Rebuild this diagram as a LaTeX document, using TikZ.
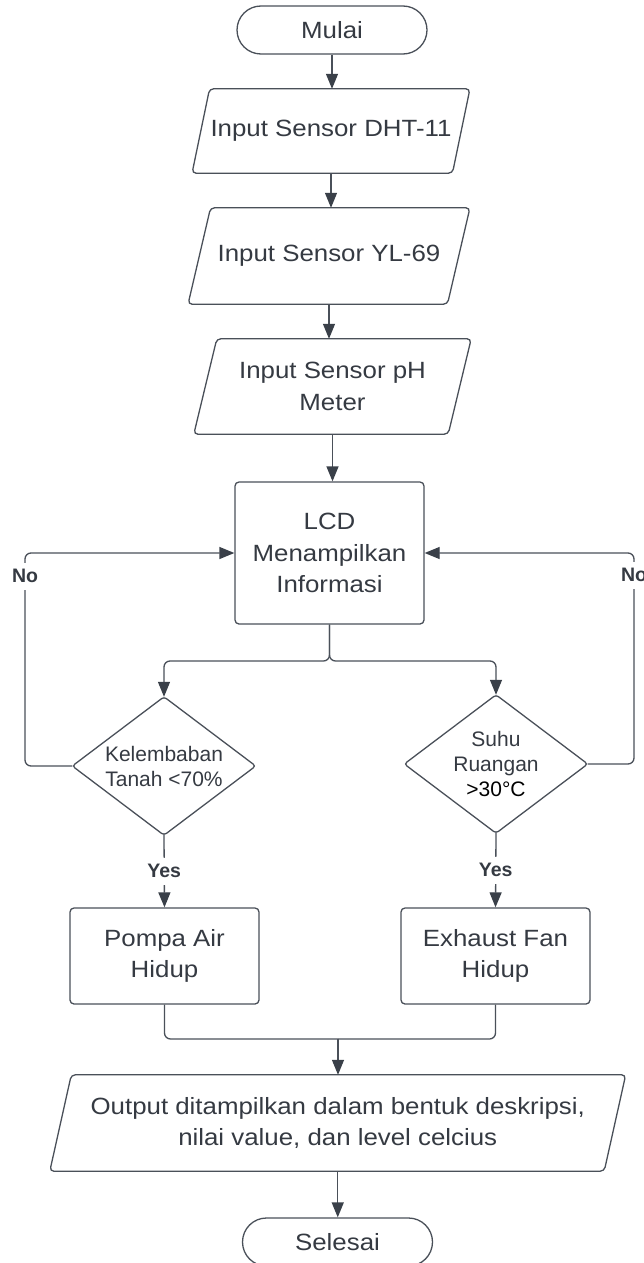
\documentclass[tikz,border=0pt]{standalone}
\usepackage{fontspec}
\setmainfont{Liberation Sans}
\newfontfamily\mf[FakeStretch=1.1]{Liberation Sans}
\usetikzlibrary{arrows.meta}
\definecolor{ln}{HTML}{4A5059}
\definecolor{tx}{HTML}{353A42}
\definecolor{ah}{HTML}{3A4049}
\newcommand\drawpara[2]{\draw[shp] ([xshift=#2pt]#1.north west) -- ([xshift=#2pt]#1.north east) -- ([xshift=-#2pt]#1.south east) -- ([xshift=-#2pt]#1.south west) -- cycle;}
\begin{document}
\begin{tikzpicture}[x=1pt,y=-1pt,
  every node/.style={text=tx, inner sep=0pt, align=center},
  mt/.style={font=\mf\fontsize{23.5}{31.5}\selectfont},
  dt/.style={font=\fontsize{21}{25}\selectfont},
  shp/.style={draw=ln, line width=1.3pt, rounded corners=4pt},
  box/.style={shp, mt},
  term/.style={draw=ln, line width=1.3pt, rounded corners=24pt, mt, minimum width=190pt, minimum height=48pt},
  lbl/.style={font=\bfseries\fontsize{19.5}{20}\selectfont, fill=white, minimum height=27pt, inner xsep=2pt},
  arr/.style={draw=ln, line width=1.3pt, rounded corners=6pt, -{Triangle[length=15pt,width=12pt,color=ah,fill=ah]}},
  line/.style={draw=ln, line width=1.3pt, rounded corners=6pt}]
\useasboundingbox (0,0) rectangle (644,1263);
% nodes
\node[term] (mulai) at (332,30) {Mulai};
\node[mt, minimum width=260pt, minimum height=84pt] (dht) at (331,131) {Input Sensor DHT-11};
\drawpara{dht}{8.75}
\node[mt, minimum width=259pt, minimum height=96pt] (yl) at (329,256) {Input Sensor YL-69};
\drawpara{yl}{11.25}
\node[mt, minimum width=254pt, minimum height=95pt] (ph) at (332.5,386.5) {Input Sensor pH\\Meter};
\drawpara{ph}{11.5}
\node[box, minimum width=189pt, minimum height=142pt] (lcd) at (329.5,553) {LCD\\Menampilkan\\Informasi};
\node[dt, minimum width=183pt, minimum height=138pt] (d1) at (164,766) {Kelembaban\\Tanah <70\%};
\draw[shp, rounded corners=3pt] (d1.north) -- (d1.east) -- (d1.south) -- (d1.west) -- cycle;
\node[dt, minimum width=183pt, minimum height=138pt] (d2) at (496,764) {Suhu\\Ruangan\\{\color{black}>30°C}};
\draw[shp, rounded corners=3pt] (d2.north) -- (d2.east) -- (d2.south) -- (d2.west) -- cycle;
\node[box, minimum width=189pt, minimum height=96pt] (pompa) at (164.5,956) {Pompa Air\\Hidup};
\node[box, minimum width=189pt, minimum height=96pt] (exh) at (495.5,956) {Exhaust Fan\\Hidup};
\node[mt, minimum width=554pt, minimum height=96pt] (out) at (337.75,1123) {Output ditampilkan dalam bentuk deskripsi,\\nilai value, dan level celcius};
\drawpara{out}{10.75}
\node[term] (sel) at (337.5,1242) {Selesai};
% connectors
\draw[arr] (mulai.south) -- (mulai.south |- dht.north);
\draw[arr] (dht.south) -- (dht.south |- yl.north);
\draw[arr] (yl.south) -- (yl.south |- ph.north);
\draw[arr] (ph.south) -- (ph.south |- lcd.north);
\coordinate (sp) at (329.5,661);
\draw[arr] (lcd.south) -- (sp) -| (d1.north);
\draw[arr] (lcd.south) -- (sp) -| (d2.north);
\coordinate (lx) at (25,553);
\draw[arr] (d1.west) -| (lx) -- (lcd.west);
\node[lbl] (no1) at (25,576) {No};
\coordinate (rx) at (634,553);
\draw[arr] (d2.east) -| (rx) -- (lcd.east);
\node[lbl] (no2) at (634,575) {No};
\draw[arr] (d1.south) -- node[lbl] (y1) {Yes} (pompa.north);
\draw[arr] (d2.south) -- node[lbl] (y2) {Yes} (exh.north);
\coordinate (mg) at (338,1039);
\draw[line] (pompa.south) |- (mg);
\draw[line] (exh.south) |- (mg);
\draw[arr] (mg) -- (mg |- out.north);
\draw[arr] (out.south) -- (out.south |- sel.north);
\end{tikzpicture}
\end{document}
